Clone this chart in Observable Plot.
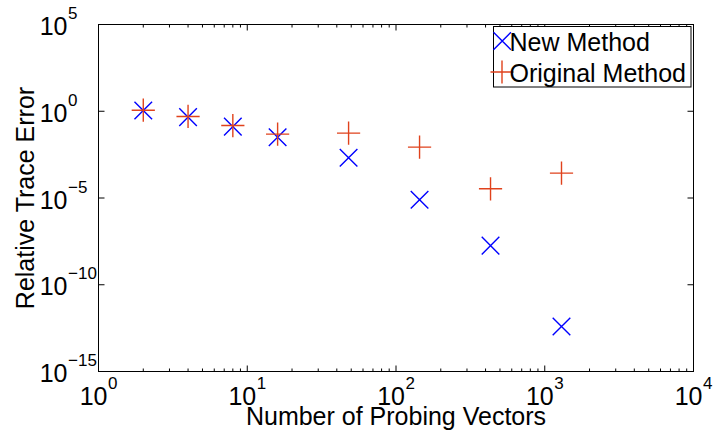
<!DOCTYPE html>
<html>
<head>
<meta charset="utf-8">
<script src="https://cdn.jsdelivr.net/npm/d3@7"></script>
<script src="https://cdn.jsdelivr.net/npm/@observablehq/plot@0.6"></script>
<style>
  html, body { margin: 0; padding: 0; background: #fff; }
  #chart { width: 714px; height: 435px; }
</style>
</head>
<body>
<div id="chart"></div>
<script>
// ---- Data ----
const probingVectors = [2, 4, 8, 16, 48, 144, 432, 1296];
const newMethod = [1.1, 0.46, 0.13, 0.032, 2.1e-3, 7.9e-6, 1.8e-8, 3.9e-13];
const originalMethod = [1.15, 0.5, 0.15, 0.048, 0.055, 8.5e-3, 3.4e-5, 2.7e-4];
const seriesNames = ["New Method", "Original Method"];
const xTickValues = [1, 10, 100, 1000, 10000];
const yTickValues = [1e5, 1, 1e-5, 1e-10, 1e-15];
const xLabel = "Number of Probing Vectors";
const yLabel = "Relative Trace Error";

// ---- Styles ----
const BLUE = "#0000ff";
const RED = "#e0421c";
const FONT = "'Liberation Sans', Arial, Helvetica, sans-serif";

const newData = probingVectors.map((x, i) => ({x, y: newMethod[i]}));
const origData = probingVectors.map((x, i) => ({x, y: originalMethod[i]}));

// minor ticks between decades on the log x axis
const xMinor = [];
for (let k = 0; k < xTickValues.length - 1; ++k)
  for (let m = 2; m <= 9; ++m) xMinor.push(m * xTickValues[k]);

// custom stroke symbols (half-extent = r)
const half = size => Math.sqrt(size / Math.PI);
const plusSym = {draw(c, s) { const h = half(s); c.moveTo(-h, 0); c.lineTo(h, 0); c.moveTo(0, -h); c.lineTo(0, h); }};
const timesSym = {draw(c, s) { const h = half(s); c.moveTo(-h, -h); c.lineTo(h, h); c.moveTo(-h, h); c.lineTo(h, -h); }};
const tickUp = {draw(c, s) { const h = half(s); c.moveTo(0, 0); c.lineTo(0, -h); }};
const tickDown = {draw(c, s) { const h = half(s); c.moveTo(0, 0); c.lineTo(0, h); }};
const tickRight = {draw(c, s) { const h = half(s); c.moveTo(0, 0); c.lineTo(h, 0); }};
const tickLeft = {draw(c, s) { const h = half(s); c.moveTo(0, 0); c.lineTo(-h, 0); }};

const expText = d => {
  const e = Math.round(Math.log10(d));
  return e < 0 ? "\u2212" + (-e) : String(e);
};

const tickStyle = {fill: "none", stroke: "black", strokeWidth: 1};

const chart = Plot.plot({
  width: 714,
  height: 435,
  marginLeft: 98,
  marginRight: 21,
  marginTop: 24,
  marginBottom: 64,
  style: {fontFamily: FONT, background: "white", color: "black", overflow: "visible"},
  x: {type: "log", domain: [1, 1e4], axis: null},
  y: {type: "log", domain: [1e-15, 1e5], axis: null},
  marks: [
    // ticks (inward)
    Plot.dot(xTickValues, {x: d => d, frameAnchor: "bottom", symbol: tickUp, r: 6, ...tickStyle}),
    Plot.dot(xTickValues, {x: d => d, frameAnchor: "top", symbol: tickDown, r: 6, ...tickStyle}),
    Plot.dot(xMinor, {x: d => d, frameAnchor: "bottom", symbol: tickUp, r: 3, ...tickStyle}),
    Plot.dot(xMinor, {x: d => d, frameAnchor: "top", symbol: tickDown, r: 3, ...tickStyle}),
    Plot.dot(yTickValues, {y: d => d, frameAnchor: "left", symbol: tickRight, r: 6, ...tickStyle}),
    Plot.dot(yTickValues, {y: d => d, frameAnchor: "right", symbol: tickLeft, r: 6, ...tickStyle}),
    Plot.frame({stroke: "black", strokeWidth: 1}),
    // x tick labels 10^k
    Plot.text(xTickValues, {x: d => d, text: () => "10", frameAnchor: "bottom", textAnchor: "end", lineAnchor: "bottom", dx: 9, dy: 33, fontSize: 25, fill: "black"}),
    Plot.text(xTickValues, {x: d => d, text: expText, frameAnchor: "bottom", textAnchor: "start", lineAnchor: "bottom", dx: 9.5, dy: 17, fontSize: 17, fill: "black"}),
    // y tick labels 10^k
    Plot.text(yTickValues, {y: d => d, text: () => "10", frameAnchor: "left", textAnchor: "end", lineAnchor: "bottom", dx: -31, dy: 10.5, fontSize: 25, fill: "black"}),
    Plot.text(yTickValues, {y: d => d, text: expText, frameAnchor: "left", textAnchor: "start", lineAnchor: "bottom", dx: -30.5, dy: -5.5, fontSize: 17, fill: "black"}),
    // axis titles
    Plot.text([xLabel], {text: d => d, frameAnchor: "bottom", textAnchor: "middle", lineAnchor: "bottom", dy: 53, fontSize: 25, fill: "black"}),
    Plot.text([yLabel], {text: d => d, frameAnchor: "left", textAnchor: "middle", lineAnchor: "bottom", rotate: -90, dx: -65, fontSize: 25, fill: "black"}),
    // data
    Plot.dot(newData, {x: "x", y: "y", symbol: timesSym, r: 8.8, fill: "none", stroke: BLUE, strokeWidth: 1.4}),
    Plot.dot(origData, {x: "x", y: "y", symbol: plusSym, r: 11.6, fill: "none", stroke: RED, strokeWidth: 1.4}),
    // legend box
    (index, scales, values, dim) => {
      const right = dim.width - dim.marginRight;
      const r = d3.create("svg:rect")
        .attr("x", right - 199.5)
        .attr("y", dim.marginTop + 2.5)
        .attr("width", 197.5)
        .attr("height", 60.5)
        .attr("fill", "white")
        .attr("stroke", "black")
        .attr("stroke-width", 1);
      return r.node();
    },
    // legend entries
    Plot.dot([seriesNames[0]], {frameAnchor: "top-right", dx: -191.3, dy: 16.5, symbol: timesSym, r: 8.7, fill: "none", stroke: BLUE, strokeWidth: 1.4}),
    Plot.dot([seriesNames[1]], {frameAnchor: "top-right", dx: -191.5, dy: 47.5, symbol: plusSym, r: 11.5, fill: "none", stroke: RED, strokeWidth: 1.4}),
    Plot.text([seriesNames[0]], {text: d => d, frameAnchor: "top-right", textAnchor: "start", lineAnchor: "bottom", dx: -184, dy: 26.5, fontSize: 25, fill: "black"}),
    Plot.text([seriesNames[1]], {text: d => d, frameAnchor: "top-right", textAnchor: "start", lineAnchor: "bottom", dx: -184, dy: 57, fontSize: 25, fill: "black"})
  ]
});

document.getElementById("chart").appendChild(chart);
</script>
</body>
</html>
